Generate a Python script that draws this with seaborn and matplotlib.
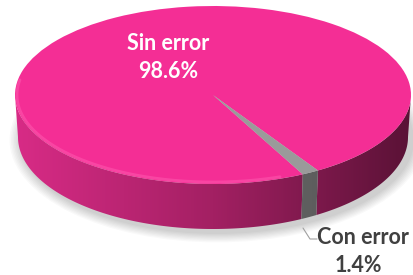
import numpy as np
import matplotlib
matplotlib.use("Agg")
import matplotlib.pyplot as plt
import seaborn as sns
from matplotlib.patches import Polygon, Ellipse
from matplotlib.transforms import Affine2D
from matplotlib.colors import LinearSegmentedColormap

# Data
labels = ["Sin error", "Con error"]
values = [98.6, 1.4]
pct_labels = ["98.6%", "1.4%"]

top_colors = ["#f42e95", "#9a9a9a"]
side_colors = [["#d82b86", "#a32063", "#5a1236"], ["#8e8e8e", "#6c6c6c", "#505050"]]

sns.set_style("white")
plt.rcParams["font.family"] = ["Lato", "DejaVu Sans"]

W, H = 414, 275
fig = plt.figure(figsize=(W / 100, H / 100), dpi=100)
ax = fig.add_axes([0, 0, 1, 1])

# geometry of the tilted disc (pixel coords, y up)
cx, cy, rx, ry = 213, 180, 198, 89          # top face
bcx, bcy, brx, bry = 213, 138, 195, 92      # bottom face
start = -58

# soft shadow under the disc
for k in range(8):
    ax.add_patch(Ellipse((bcx + 4, bcy - 3), 2 * (brx + 2 + k * 1.5), 2 * (bry + 2 + k * 1.2),
                         facecolor="#000000", alpha=0.025, edgecolor="none", zorder=0))

# wedge angles from the data
fracs = np.array(values) / sum(values)
bounds = start + 360 * np.concatenate([[0], np.cumsum(fracs)])

grad = np.tile(np.linspace(0, 1, 400), (10, 1))
for i in range(len(values)):
    a0, a1 = bounds[i], bounds[i + 1]
    cmap = LinearSegmentedColormap.from_list("side%d" % i, side_colors[i])
    for shift in (-360, 0, 360):
        lo, hi = max(a0 + shift, 180), min(a1 + shift, 360)
        if lo >= hi:
            continue
        th = np.radians(np.linspace(lo, hi, 200))
        top = np.column_stack([cx + rx * np.cos(th), cy + ry * np.sin(th)])
        bot = np.column_stack([bcx + brx * np.cos(th), bcy + bry * np.sin(th)])[::-1]
        poly = Polygon(np.vstack([top, bot]), closed=True, facecolor="none",
                       edgecolor="none", transform=ax.transData)
        ax.add_patch(poly)
        im = ax.imshow(grad, extent=[cx - rx, cx + rx, 0, H], cmap=cmap,
                       aspect="auto", zorder=1)
        im.set_clip_path(poly)

# top face drawn with pie, squashed into an ellipse
wedges, _ = ax.pie(values, colors=top_colors, startangle=start, counterclock=True,
                   radius=1, center=(0, 0), wedgeprops=dict(linewidth=0))
squash = Affine2D().scale(rx, ry).translate(cx, cy) + ax.transData
for w in wedges:
    w.set_transform(squash)
    w.set_zorder(3)

# light rim along front edge of the top
th = np.radians(np.linspace(170, 290, 200))
ax.plot(cx + (rx - 2) * np.cos(th), cy + (ry - 2) * np.sin(th), color="#ff5db2",
        lw=2, alpha=0.5, zorder=4, solid_capstyle="round")

ax.set_xlim(0, W)
ax.set_ylim(0, H)
ax.set_aspect("auto")
ax.axis("off")

# labels
ax.text(168, H - 44, labels[0], ha="center", va="center", color="white",
        fontsize=15.5, fontweight="bold", zorder=5)
ax.text(168, H - 71, pct_labels[0], ha="center", va="center", color="white",
        fontsize=15.5, fontweight="bold", zorder=5)
ax.text(363, H - 237, labels[1], ha="center", va="center", color="#404040",
        fontsize=15.5, fontweight="bold", zorder=5)
ax.text(358, H - 265, pct_labels[1], ha="center", va="center", color="#404040",
        fontsize=15.5, fontweight="bold", zorder=5)
ax.plot([303, 310, 317], [H - 228, H - 239, H - 239], color="#a0a0a0", lw=0.8, zorder=5)

fig.savefig("out.png", dpi=100)
